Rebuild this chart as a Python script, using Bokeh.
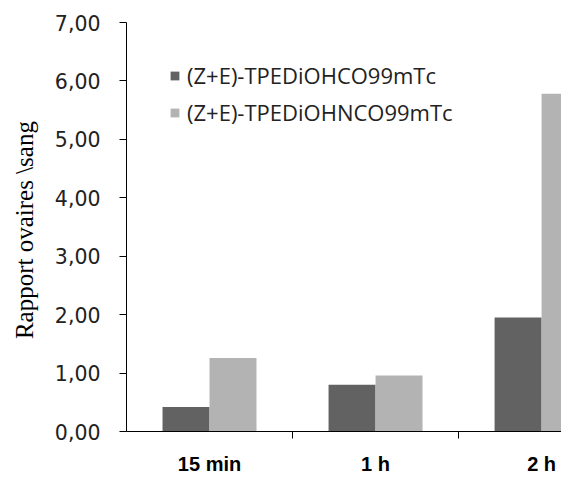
from bokeh.plotting import figure
from bokeh.models import FixedTicker, Legend, LegendItem, Range1d, ColumnDataSource
from bokeh.transform import dodge
from bokeh.embed import file_html
from bokeh.resources import INLINE

categories = ["15 min", "1 h", "2 h"]
series_names = ["(Z+E)-TPEDiOHCO99mTc", "(Z+E)-TPEDiOHNCO99mTc"]
dark_values = [0.42, 0.80, 1.95]
light_values = [1.26, 0.96, 5.78]
y_ticks = [0, 1, 2, 3, 4, 5, 6, 7]
y_tick_labels = ["0,00", "1,00", "2,00", "3,00", "4,00", "5,00", "6,00", "7,00"]

pos = [i + 0.5 for i in range(len(categories))]
boundaries = [i for i in range(1, len(categories))]
src = ColumnDataSource(dict(x=pos, dark=dark_values, light=light_values))

p = figure(width=561, height=478, output_backend="svg", toolbar_location=None,
           x_range=Range1d(0, 2.62), y_range=Range1d(0, 7),
           min_border_left=126, min_border_right=0, min_border_top=22, min_border_bottom=47)
p.outline_line_color = None
p.xgrid.visible = False
p.ygrid.visible = False

bw = 0.283
r1 = p.vbar(x=dodge("x", -bw / 2), top="dark", width=bw, source=src,
            fill_color="#626262", line_color=None)
r2 = p.vbar(x=dodge("x", bw / 2), top="light", width=bw, source=src,
            fill_color="#b3b3b3", line_color=None)

# x axis
xa = p.xaxis[0]
xa.ticker = FixedTicker(ticks=pos, minor_ticks=boundaries)
xa.major_label_overrides = {x: c for x, c in zip(pos, categories)}
xa.major_tick_out = 0
xa.major_tick_in = 0
xa.minor_tick_out = 7
xa.minor_tick_in = 0
xa.minor_tick_line_color = "#000000"
xa.axis_line_color = "#000000"
xa.major_label_text_font = "Liberation Sans"
xa.major_label_text_font_style = "bold"
xa.major_label_text_font_size = "20px"
xa.major_label_text_color = "#000000"
xa.major_label_standoff = 14

# y axis
ya = p.yaxis[0]
ya.ticker = FixedTicker(ticks=y_ticks, minor_ticks=[])
ya.major_label_overrides = {t: l for t, l in zip(y_ticks, y_tick_labels)}
ya.major_tick_out = 7
ya.major_tick_in = 0
ya.minor_tick_out = 0
ya.minor_tick_in = 0
ya.axis_line_color = "#000000"
ya.major_tick_line_color = "#000000"
ya.major_label_text_font = "DejaVu Sans"
ya.major_label_text_font_size = "20.5px"
ya.major_label_text_color = "#222222"
ya.major_label_standoff = 19
ya.axis_label = "Rapport  ovaires \\sang"
ya.axis_label_text_font = "Liberation Serif"
ya.axis_label_text_font_style = "normal"
ya.axis_label_text_font_size = "25px"
ya.axis_label_text_color = "#000000"
ya.axis_label_standoff = 14

legend = Legend(items=[LegendItem(label=series_names[0], renderers=[r1]),
                       LegendItem(label=series_names[1], renderers=[r2])],
                location=(43, 304), orientation="vertical")
legend.border_line_color = None
legend.background_fill_alpha = 0
legend.margin = 0
legend.padding = 0
legend.glyph_width = 11
legend.glyph_height = 11
legend.label_text_font = "Open Sans"
legend.label_text_font_size = "22px"
legend.label_text_color = "#222222"
legend.label_standoff = 7
legend.spacing = 7
p.add_layout(legend, "center")

open("out.html", "w").write(file_html(p, INLINE))
